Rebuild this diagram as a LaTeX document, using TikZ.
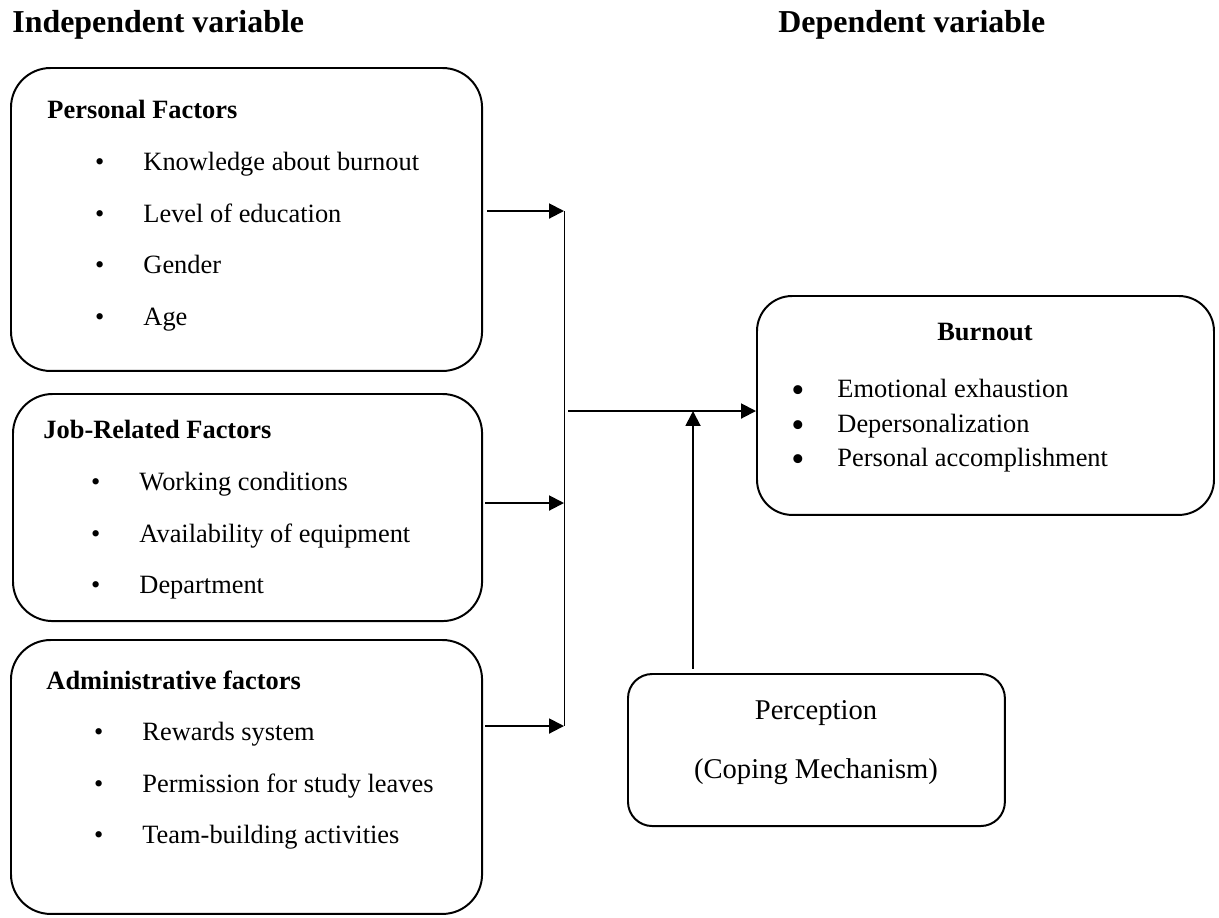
\documentclass[tikz,border=0pt]{standalone}
\usepackage{fontspec}
\setmainfont{Liberation Serif}
\usepackage{tikz}
\usetikzlibrary{arrows.meta}
\newcommand{\bitem}[1]{\makebox[22pt][l]{\textbullet}#1}
\newcommand{\bigitem}[1]{\makebox[21pt][l]{\raisebox{-2.3pt}{\fontsize{17}{17}\selectfont\textbullet}}#1}
\tikzset{
  box/.style={draw, line width=0.9pt, rounded corners=18pt, anchor=north west, inner sep=0pt},
  head/.style={font=\fontsize{14.5}{17}\selectfont\bfseries, anchor=base west, inner sep=0pt},
  ttl/.style={font=\fontsize{12}{14}\selectfont\bfseries, anchor=base west, inner sep=0pt},
  itm/.style={font=\fontsize{12}{14}\selectfont, anchor=base west, inner sep=0pt},
  ptxt/.style={font=\fontsize{13}{15}\selectfont, anchor=base, inner sep=0pt},
  arr/.style={line width=0.9pt, -{Triangle[length=6.8pt,width=6.8pt]}},
  busline/.style={line width=0.45pt}
}

\begin{document}
\begin{tikzpicture}[x=0.4545pt, y=-0.4545pt]
  \useasboundingbox (0,0) rectangle (1219,917);
  % headings
  \node[head] (indep) at (12,32) {Independent variable};
  \node[head] (dep) at (778,32) {Dependent variable};

  % personal factors
  \node[box, minimum width=214.1pt, minimum height=137.7pt] (pers) at (10,67) {};
  \node[ttl] (perst) at (47,118) {Personal Factors};
  \node[itm] (pers1) at (94.6,170) {\bitem{Knowledge about burnout}};
  \node[itm] (pers2) at (94.6,222) {\bitem{Level of education}};
  \node[itm] (pers3) at (94.6,273) {\bitem{Gender}};
  \node[itm] (pers4) at (94.6,325) {\bitem{Age}};

  % job-related factors
  \node[box, minimum width=213.2pt, minimum height=103.2pt] (job) at (12,393) {};
  \node[ttl] (jobt) at (43,438) {Job-Related Factors};
  \node[itm] (job1) at (90.6,490) {\bitem{Working conditions}};
  \node[itm] (job2) at (90.6,542) {\bitem{Availability of equipment}};
  \node[itm] (job3) at (90.6,593) {\bitem{Department}};

  % administrative factors
  \node[box, minimum width=214.1pt, minimum height=124.5pt] (admin) at (10,639) {};
  \node[ttl] (admint) at (46,689) {Administrative factors};
  \node[itm] (admin1) at (93.6,740) {\bitem{Rewards system}};
  \node[itm] (admin2) at (93.6,792) {\bitem{Permission for study leaves}};
  \node[itm] (admin3) at (93.6,843) {\bitem{Team-building activities}};

  % burnout
  \node[box, rounded corners=16pt, minimum width=207.7pt, minimum height=99.5pt] (burn) at (756,295) {};
  \node[ttl, anchor=base] (burnt) at (985,340) {Burnout};
  \node[itm] (burn1) at (790.8,397) {\bigitem{Emotional exhaustion}};
  \node[itm] (burn2) at (790.8,432) {\bigitem{Depersonalization}};
  \node[itm] (burn3) at (790.8,466) {\bigitem{Personal accomplishment}};

  % perception
  \node[box, rounded corners=11pt, minimum width=171.3pt, minimum height=69.1pt] (perc) at (627,673) {};
  \node[ptxt] (perc1) at (816,719) {Perception};
  \node[ptxt] (perc2) at (816,778) {(Coping Mechanism)};

  % connectors
  \coordinate (bus1) at (564,211);
  \coordinate (bus2) at (564,503);
  \coordinate (bus3) at (564,726);
  \coordinate (busm) at (568,411);
  \coordinate (join) at (693,411);
  \draw[busline] (bus1) -- (bus3);
  \draw[arr, shorten <=2pt] (pers.east |- bus1) -- (bus1);
  \draw[arr, shorten <=1pt] (job.east |- bus2) -- (bus2);
  \draw[arr, shorten <=1pt] (admin.east |- bus3) -- (bus3);
  \draw[arr] (busm) -- (burn.west |- busm);
  \draw[arr, shorten <=2pt] (perc.north -| join) -- (join);
\end{tikzpicture}
\end{document}
